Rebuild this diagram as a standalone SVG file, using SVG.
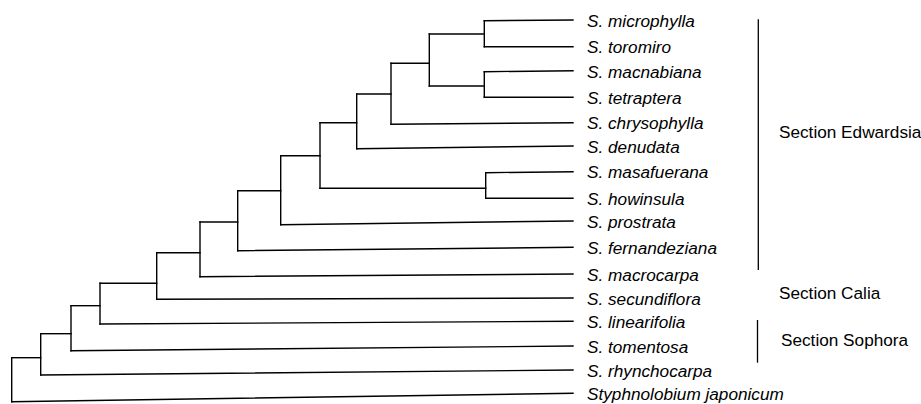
<svg xmlns="http://www.w3.org/2000/svg" width="921" height="404" viewBox="0 0 921 404">
<style>
.br{fill:none;stroke:#000;stroke-width:1.4;stroke-linecap:square}
.bar{fill:none;stroke:#000;stroke-width:1.3}
.sp{font-family:"Liberation Sans",Arial,sans-serif;font-style:italic;font-size:17.2px;fill:#000}
.sec{font-family:"Liberation Sans",Arial,sans-serif;font-size:17.2px;fill:#000}
</style>
<rect width="921" height="404" fill="#fff"/>
<g id="connectors" class="br">
<!-- leaf branches -->
<path d="M484.3,20.7 L573,20"/>
<path d="M484.3,46.7 L573,46.7"/>
<path d="M484.3,71.7 L573,70.7"/>
<path d="M484.3,97.3 L573,97.3"/>
<path d="M391,124.3 L573,122.7"/>
<path d="M356.7,148.7 L573,146"/>
<path d="M485.7,172.7 L573,171.7"/>
<path d="M485.7,198.3 L573,198.3"/>
<path d="M280.7,224.7 L573,221"/>
<path d="M237.7,250.7 L573,247.3"/>
<path d="M200,276.7 L573,274"/>
<path d="M156.7,299.3 L573,298"/>
<path d="M100,324 L573,321.3"/>
<path d="M71,350.7 L573,346"/>
<path d="M40.7,375 L573,370"/>
<path d="M11.7,401.7 L573,393.3"/>
<!-- internal verticals -->
<path d="M484.3,20.7 V46.7"/>
<path d="M484.3,71.7 V97.3"/>
<path d="M485.7,172.7 V198.3"/>
<path d="M429.3,34 V86"/>
<path d="M391,63.3 V124.3"/>
<path d="M356.7,94 V148.7"/>
<path d="M320,122.7 V188.3"/>
<path d="M280.7,155.7 V224.7"/>
<path d="M237.7,190.7 V250.7"/>
<path d="M200,222 V276.7"/>
<path d="M156.7,252.7 V299.3"/>
<path d="M100,283.3 V324"/>
<path d="M71,305.7 V350.7"/>
<path d="M40.7,333.7 V375"/>
<path d="M11.7,357.7 V401.7"/>
<!-- internal stems -->
<path d="M429.3,34 H484.3"/>
<path d="M429.3,86 H484.3"/>
<path d="M391,63.3 H429.3"/>
<path d="M356.7,94 H391"/>
<path d="M320,122.7 H356.7"/>
<path d="M320,188.3 H485.7"/>
<path d="M280.7,155.7 H320"/>
<path d="M237.7,190.7 H280.7"/>
<path d="M200,222 H237.7"/>
<path d="M156.7,252.7 H200"/>
<path d="M100,283.3 H156.7"/>
<path d="M71,305.7 H100"/>
<path d="M40.7,333.7 H71"/>
<path d="M11.7,357.7 H40.7"/>
</g>
<g id="leaf-microphylla"><text class="sp" x="587" y="26.5">S. microphylla</text></g>
<g id="leaf-toromiro"><text class="sp" x="587" y="53">S. toromiro</text></g>
<g id="leaf-macnabiana"><text class="sp" x="587" y="77.5">S. macnabiana</text></g>
<g id="leaf-tetraptera"><text class="sp" x="587" y="103.5">S. tetraptera</text></g>
<g id="leaf-chrysophylla"><text class="sp" x="587" y="129">S. chrysophylla</text></g>
<g id="leaf-denudata"><text class="sp" x="587" y="152.5">S. denudata</text></g>
<g id="leaf-masafuerana"><text class="sp" x="587" y="178">S. masafuerana</text></g>
<g id="leaf-howinsula"><text class="sp" x="587" y="204.5">S. howinsula</text></g>
<g id="leaf-prostrata"><text class="sp" x="587" y="227.5">S. prostrata</text></g>
<g id="leaf-fernandeziana"><text class="sp" x="587" y="253.5">S. fernandeziana</text></g>
<g id="leaf-macrocarpa"><text class="sp" x="587" y="280.5">S. macrocarpa</text></g>
<g id="leaf-secundiflora"><text class="sp" x="587" y="304.5">S. secundiflora</text></g>
<g id="leaf-linearifolia"><text class="sp" x="587" y="327.5">S. linearifolia</text></g>
<g id="leaf-tomentosa"><text class="sp" x="587" y="352.5">S. tomentosa</text></g>
<g id="leaf-rhynchocarpa"><text class="sp" x="587" y="376.5">S. rhynchocarpa</text></g>
<g id="leaf-styphnolobium"><text class="sp" x="587" y="399.5">Styphnolobium japonicum</text></g>
<g id="section-edwardsia">
<line class="bar" x1="758.3" y1="19.3" x2="758.3" y2="270"/>
<text class="sec" x="779" y="138">Section Edwardsia</text>
</g>
<g id="section-calia"><text class="sec" x="779" y="299">Section Calia</text></g>
<g id="section-sophora">
<line class="bar" x1="757.5" y1="320" x2="757.5" y2="362.7"/>
<text class="sec" x="781" y="346">Section Sophora</text>
</g>
</svg>
